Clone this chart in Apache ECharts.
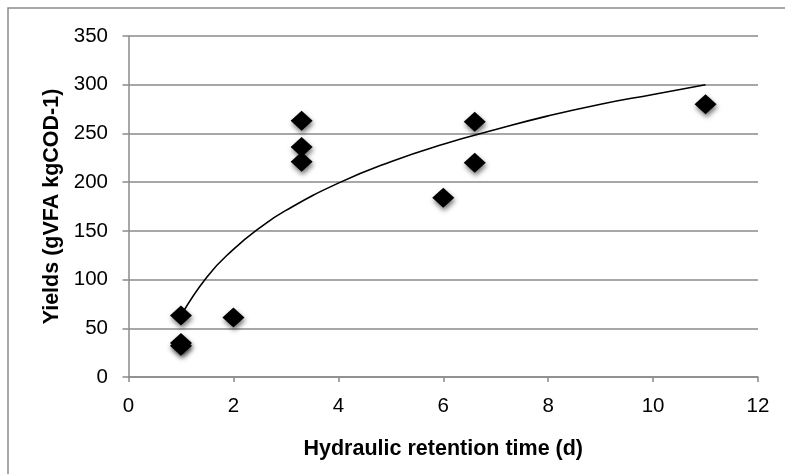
<!DOCTYPE html>
<html>
<head>
<meta charset="utf-8">
<script src="https://cdn.jsdelivr.net/npm/echarts@6/dist/echarts.min.js"></script>
<style>html,body{margin:0;padding:0;background:#fff}#c{width:785px;height:474px}</style>
</head>
<body>
<div id="c"></div>
<script>
// Measured points
var hrt = [1, 1, 1, 2, 3.3, 3.3, 3.3, 6, 6.6, 6.6, 11];
var yields = [63, 35, 32, 61, 263, 236, 221, 184, 262, 220, 280];
// Trend curve
var trendX = [1, 1.5, 2, 2.5, 3, 4, 5, 6, 7, 8, 9, 10, 11];
var trendY = [63, 103, 131, 153, 171, 199, 221, 239, 254, 268, 280, 290, 300];
var xTicks = [0, 2, 4, 6, 8, 10, 12];
var yTicks = [0, 50, 100, 150, 200, 250, 300, 350];
var xTitle = 'Hydraulic retention time (d)';
var yTitle = 'Yields (gVFA kgCOD-1)';

var gridColor = '#8a8a8a';
var font = 'Liberation Sans, Arial, sans-serif';
var chart = echarts.init(document.getElementById('c'), null, {renderer: 'canvas'});
chart.setOption({
  animation: false,
  backgroundColor: '#fff',
  graphic: [{
    type: 'rect', shape: {x: 8, y: 8, width: 900, height: 600},
    style: {fill: 'none', stroke: gridColor, lineWidth: 1.5}, silent: true
  }],
  grid: {left: 128.5, right: 27, top: 36, bottom: 97},
  xAxis: {
    type: 'value', min: xTicks[0], max: xTicks[xTicks.length - 1], interval: 2,
    name: xTitle, nameLocation: 'middle', nameGap: 61,
    nameTextStyle: {fontFamily: font, fontWeight: 'bold', fontSize: 21.5, color: '#000'},
    axisLine: {show: true, onZero: false, lineStyle: {color: gridColor, width: 1.5}},
    axisTick: {show: true, length: 5, lineStyle: {color: gridColor, width: 1.5}},
    axisLabel: {fontFamily: font, fontSize: 20.5, color: '#000', margin: 19},
    splitLine: {show: false}
  },
  yAxis: {
    type: 'value', min: yTicks[0], max: yTicks[yTicks.length - 1], interval: 50,
    name: yTitle, nameLocation: 'middle', nameGap: 63, nameRotate: 90,
    nameTextStyle: {fontFamily: font, fontWeight: 'bold', fontSize: 21.5, color: '#000'},
    axisLine: {show: true, lineStyle: {color: gridColor, width: 1.5}},
    axisTick: {show: true, length: 6, lineStyle: {color: gridColor, width: 1.5}},
    axisLabel: {fontFamily: font, fontSize: 20.5, color: '#000', margin: 20.5},
    splitLine: {show: true, lineStyle: {color: gridColor, width: 1.5}}
  },
  series: [{
    type: 'line', data: trendX.map(function (x, i) { return [x, trendY[i]]; }),
    smooth: true, showSymbol: false, symbol: 'none',
    lineStyle: {color: '#000', width: 1.6}, z: 2
  }, {
    type: 'scatter', data: hrt.map(function (x, i) { return [x, yields[i]]; }),
    symbol: 'diamond', symbolSize: [22, 20],
    itemStyle: {color: '#000', opacity: 1, shadowBlur: 5, shadowOffsetX: 1, shadowOffsetY: 3, shadowColor: 'rgba(0,0,0,0.55)'},
    z: 3
  }]
});
</script>
</body>
</html>
